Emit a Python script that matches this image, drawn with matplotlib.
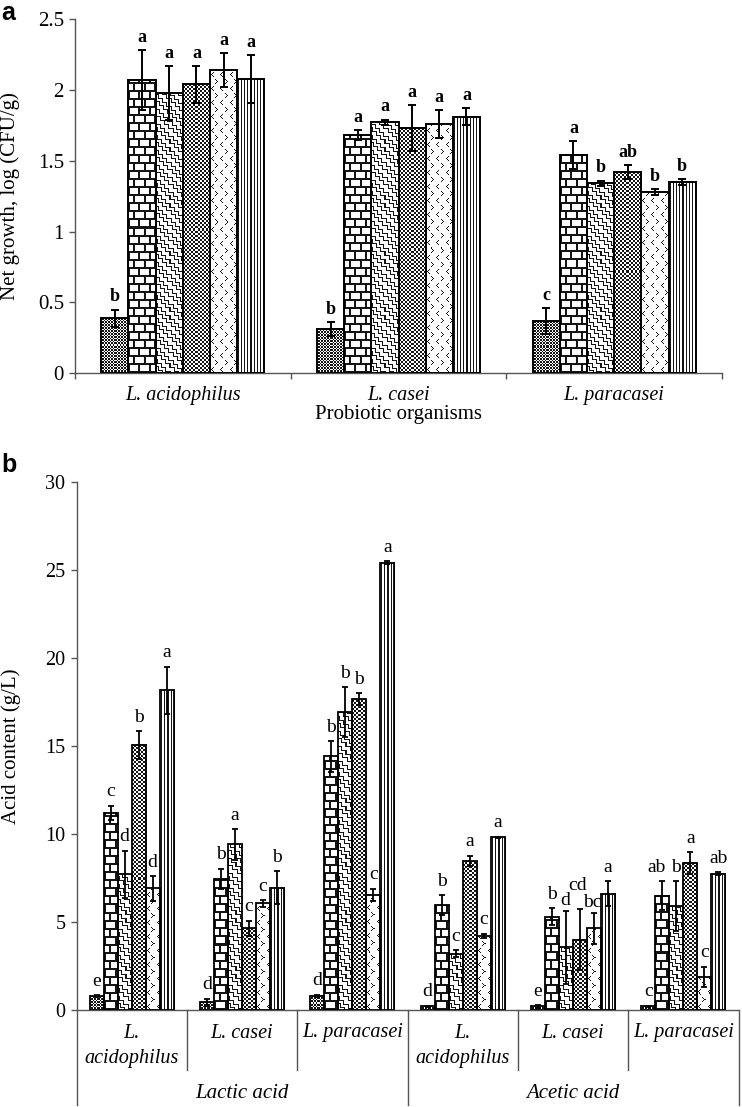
import numpy as np
import matplotlib
matplotlib.use("Agg")
import matplotlib.pyplot as plt
from matplotlib.ticker import FuncFormatter, FixedLocator

# ---------------- data ----------------
organisms = ["L. acidophilus", "L. casei", "L. paracasei"]

# Panel a: net growth (6 treatments x 3 organisms)
growth_means = [
    [0.39, 0.31, 0.37],
    [2.07, 1.68, 1.54],
    [1.975, 1.77, 1.34],
    [2.04, 1.73, 1.42],
    [2.14, 1.76, 1.28],
    [2.075, 1.81, 1.35],
]
growth_err = [
    [0.06, 0.05, 0.09],
    [0.21, 0.035, 0.10],
    [0.19, 0.02, 0.02],
    [0.13, 0.16, 0.05],
    [0.12, 0.10, 0.02],
    [0.17, 0.06, 0.02],
]
growth_letters = [
    ["b", "b", "c"],
    ["a", "a", "a"],
    ["a", "a", "b"],
    ["a", "a", "ab"],
    ["a", "a", "b"],
    ["a", "a", "b"],
]

# Panel b: acid content (6 treatments x 6 subgroups)
acid_subgroups = ["L.\nacidophilus", "L. casei", "L. paracasei",
                  "L.\nacidophilus", "L. casei", "L. paracasei"]
acid_groups = ["Lactic acid", "Acetic acid"]
acid_means = [
    [0.78, 0.44, 0.82, 0.2, 0.2, 0.2],
    [11.2, 7.45, 14.4, 5.95, 5.3, 6.5],
    [7.7, 9.4, 16.9, 3.2, 3.55, 5.9],
    [15.05, 4.65, 17.65, 8.45, 4.0, 8.35],
    [6.9, 6.05, 6.55, 4.2, 4.65, 1.9],
    [18.15, 6.95, 25.4, 9.8, 6.6, 7.75],
]
acid_err = [
    [0.06, 0.2, 0.06, 0.03, 0.08, 0.03],
    [0.4, 0.57, 0.86, 0.57, 0.47, 0.8],
    [1.35, 0.87, 1.42, 0.19, 2.05, 1.42],
    [0.77, 0.43, 0.34, 0.3, 1.72, 0.6],
    [0.7, 0.19, 0.34, 0.13, 0.88, 0.57],
    [1.35, 0.94, 0.08, 0.05, 0.7, 0.06],
]
acid_letters = [
    ["e", "d", "d", "d", "e", "c"],
    ["c", "b", "b", "b", "b", "ab"],
    ["d", "a", "b", "c", "d", "b"],
    ["b", "c", "b", "a", "cd", "a"],
    ["d", "c", "c", "c", "bc", "c"],
    ["a", "b", "a", "a", "a", "ab"],
]

patterns = ["dark", "brick", "zigzag", "checker", "chevron", "vstripe"]

# label nudges in points (treatment, subgroup) -> (dx, dy), layout only
acid_label_nudge = {
    (3, 4): (-1.5, 7.0),
    (2, 4): (-0.5, -2.5),
    (4, 4): (-1.5, -3.0),
    (1, 5): (-4.0, 0.0),
}

# ---------------- styling ----------------
SERIF = ["Liberation Serif", "DejaVu Serif"]
SANS = ["Liberation Sans", "DejaVu Sans"]
plt.rcParams["font.family"] = SERIF
AXCOL = "#555555"

W, H = 742, 1107
fig = plt.figure(figsize=(W / 100, H / 100), dpi=100)


def rect(l, r, b, t):
    return [l / W, 1 - b / H, (r - l) / W, (b - t) / H]


def chevron_tile():
    tile = np.zeros((14, 9), bool)
    # "<" glyph
    for k, c in enumerate([2, 1, 0, 1, 2]):
        tile[1 + k, 1 + c] = True
    # ">" glyph
    for k, c in enumerate([0, 1, 2, 1, 0]):
        tile[8 + k, 5 + c] = True
    return tile


CHEV = chevron_tile()


def texture(kind, h, w):
    yy, xx = np.mgrid[0:h, 0:w]
    yb = h - 1 - yy
    if kind == "dark":
        m = ((xx + yb) % 3 == 0) | ((xx - yb) % 3 == 0)
    elif kind == "brick":
        row = yb // 8
        m = (yb % 8 < 2) | (((xx + (row % 2) * 5) % 10) < 2)
    elif kind == "zigzag":
        u = xx + yb
        v = xx - yb
        tri = np.abs((v % 8) - 4)
        m = ((u + tri) % 7) < 2
    elif kind == "checker":
        m = ((xx // 2) + (yb // 2)) % 2 == 0
    elif kind == "chevron":
        m = CHEV[yb % CHEV.shape[0], xx % CHEV.shape[1]]
    else:  # vstripe
        m = (xx % 3) == 1
    img = np.ones((h, w, 4))
    img[m, :3] = 0.08
    return img


def draw_bars(ax, xs, vals, width, kind, lw):
    bars = ax.bar(xs, vals, width=width, color="white", edgecolor="none", zorder=1)
    for b in bars:
        x0, y0 = b.get_x(), b.get_y()
        x1, y1 = x0 + b.get_width(), y0 + b.get_height()
        p0 = ax.transData.transform((x0, y0))
        p1 = ax.transData.transform((x1, y1))
        pw = max(1, int(round(p1[0] - p0[0])))
        ph = max(1, int(round(p1[1] - p0[1])))
        ax.imshow(texture(kind, ph, pw), extent=(x0, x1, y0, y1), aspect="auto",
                  interpolation="nearest", zorder=2)
    ax.bar(xs, vals, width=width, facecolor="none", edgecolor="black",
           linewidth=lw, zorder=3)


# ================= Panel a =================
axa = fig.add_axes(rect(75, 722, 373.3, 19))
axa.set_xlim(-0.5, 2.5)
axa.set_ylim(0, 2.5)
bw_a = 0.126
xa = np.arange(len(organisms))
for i in range(6):
    xs = xa + (i - 2.5) * bw_a
    draw_bars(axa, xs, growth_means[i], bw_a, patterns[i], 1.4)
    axa.errorbar(xs, growth_means[i], yerr=growth_err[i], fmt="none",
                 ecolor="black", elinewidth=1.4, capsize=2.8, capthick=1.4, zorder=5)
    for x, m, e, t in zip(xs, growth_means[i], growth_err[i], growth_letters[i]):
        axa.annotate(t, (x, m + e), xytext=(0, 3.0), textcoords="offset points",
                     ha="center", va="bottom", fontsize=13, fontweight="bold")
axa.set_xlim(-0.5, 2.5)
axa.set_ylim(0, 2.5)
for s in ["top", "right"]:
    axa.spines[s].set_visible(False)
for s in ["left", "bottom"]:
    axa.spines[s].set_color(AXCOL)
    axa.spines[s].set_linewidth(1.0)
axa.set_yticks([0, 0.5, 1, 1.5, 2, 2.5])
axa.yaxis.set_major_formatter(FuncFormatter(lambda v, p: "%g" % v))
axa.tick_params(axis="y", direction="out", length=4, width=1, color=AXCOL,
                labelsize=15, pad=4)
axa.set_xticks(xa)
axa.set_xticklabels(organisms, fontstyle="italic", fontsize=14.5)
axa.tick_params(axis="x", which="major", length=0, pad=9)
axa.xaxis.set_minor_locator(FixedLocator([-0.5, 0.5, 1.5, 2.5]))
axa.tick_params(axis="x", which="minor", direction="out", length=4, width=1, color=AXCOL)
axa.set_xlabel("Probiotic organisms", fontsize=15, labelpad=0)
axa.set_ylabel("Net growth, log (CFU/g)", fontsize=15)
axa.yaxis.set_label_coords(-0.085, 0.5)

fig.text(1 / W, 1 - 1 / H, "a", fontsize=18, fontweight="bold", family=SANS,
         ha="left", va="top")

# ================= Panel b =================
axb = fig.add_axes(rect(76.5, 738.5, 1010, 481.7))
nb = len(acid_subgroups)
axb.set_xlim(-0.5, nb - 0.5)
axb.set_ylim(0, 30)
bw_b = 0.127
xb = np.arange(nb)
for i in range(6):
    xs = xb + (i - 2.5) * bw_b
    draw_bars(axb, xs, acid_means[i], bw_b, patterns[i], 1.3)
    axb.errorbar(xs, acid_means[i], yerr=acid_err[i], fmt="none",
                 ecolor="black", elinewidth=1.3, capsize=2.5, capthick=1.3, zorder=5)
    for j, (x, m, e, t) in enumerate(zip(xs, acid_means[i], acid_err[i], acid_letters[i])):
        dx, dy = acid_label_nudge.get((i, j), (0.0, 0.0))
        axb.annotate(t, (x, m + e), xytext=(dx, 4.0 + dy), textcoords="offset points",
                     ha="center", va="bottom", fontsize=14)
axb.set_xlim(-0.5, nb - 0.5)
axb.set_ylim(0, 30)
for s in ["top", "right", "left"]:
    axb.spines[s].set_visible(False)
axb.spines["bottom"].set_color(AXCOL)
axb.spines["bottom"].set_linewidth(1.0)
axb.set_xticks([])
axb.set_yticks(range(0, 31, 5))
axb.tick_params(axis="y", direction="out", length=4, width=1, color=AXCOL,
                labelsize=14.5, pad=4)
axb.set_ylabel("Acid content (g/L)", fontsize=15)
axb.yaxis.set_label_coords(-0.084, 0.5)

# category frame lines (multi-level axis)
ybot_full = (1010 - 1105) / 528.3
ybot_sub = (1010 - 1070) / 528.3
for k in range(nb + 1):
    xf = k / nb
    y0 = ybot_full if k in (0, nb // 2, nb) else ybot_sub
    top = 1.0 if k == 0 else 0.0
    axb.plot([xf, xf], [y0, top], color=AXCOL, lw=1.0, transform=axb.transAxes,
             clip_on=False, zorder=6)

y_line1 = (1010 - 1033) / 528.3
y_line2 = (1010 - 1058) / 528.3
for k, lab in enumerate(acid_subgroups):
    xf = (k + 0.5) / nb
    parts = lab.split("\n")
    axb.text(xf, y_line1, parts[0], transform=axb.transAxes, ha="center",
             va="center", fontsize=14.5, fontstyle="italic")
    if len(parts) > 1:
        axb.text(xf, y_line2, parts[1], transform=axb.transAxes, ha="center",
                 va="center", fontsize=14.5, fontstyle="italic")
y_grp = (1010 - 1094) / 528.3
for g, lab in enumerate(acid_groups):
    axb.text((g + 0.5) / 2, y_grp, lab, transform=axb.transAxes, ha="center",
             va="center", fontsize=15, fontstyle="italic")

fig.text(1 / W, 1 - 453 / H, "b", fontsize=18, fontweight="bold", family=SANS,
         ha="left", va="top")

fig.savefig("out.png", dpi=100)
